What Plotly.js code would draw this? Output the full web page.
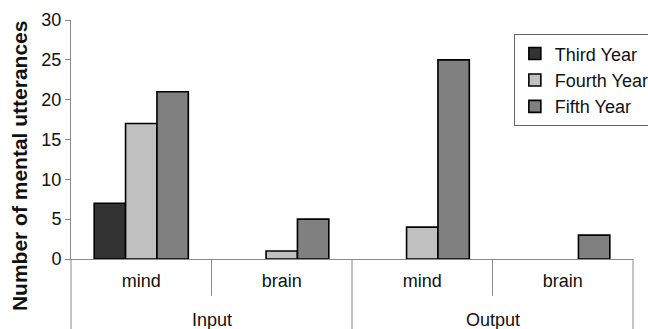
<!DOCTYPE html>
<html>
<head>
<meta charset="utf-8">
<script src="https://cdn.plot.ly/plotly-3.0.1.min.js"></script>
<style>html,body{margin:0;padding:0;background:#fff;}#chart{width:648px;height:329px;}</style>
</head>
<body>
<div id="chart"></div>
<script>
// Data
var groups = ["Input", "Output"];
var subcats = ["mind", "brain", "mind", "brain"];
var seriesNames = ["Third Year", "Fourth Year", "Fifth Year"];
var thirdYear = [7, 0, 0, 0];
var fourthYear = [17, 1, 4, 0];
var fifthYear = [21, 5, 25, 3];
var yTicks = [0, 5, 10, 15, 20, 25, 30];

var colors = ["#333333", "#c0c0c0", "#808080"];
var seriesVals = [thirdYear, fourthYear, fifthYear];
var xpos = subcats.map(function (_, i) { return i; });
var font = "Liberation Sans, Arial, sans-serif";

var traces = seriesVals.map(function (vals, k) {
  return {
    type: "bar",
    name: seriesNames[k],
    x: xpos,
    y: vals.map(function (v) { return v === 0 ? null : v; }),
    marker: { color: colors[k], line: { color: "#000", width: 1.6 } },
    hoverinfo: "skip"
  };
});

var n = subcats.length;
var shapes = [];
var axGrey = "#8a8a8a";
for (var i = 0; i <= n; i++) {
  var xp = i / n;
  var isGroupEdge = (i % 2 === 0);
  shapes.push({
    type: "line", xref: "paper", yref: "paper",
    x0: xp, x1: xp, y0: 0, y1: isGroupEdge ? -0.32 : -0.154,
    line: { color: axGrey, width: 1 }
  });
}
var annotations = groups.map(function (g, j) {
  return {
    text: g, xref: "paper", yref: "paper",
    x: (2 * j + 1) / groups.length / 2, y: -0.254,
    xanchor: "center", yanchor: "middle", showarrow: false,
    font: { family: font, size: 18, color: "#111" }
  };
});
annotations.push({
  text: "<b>Number of mental utterances</b>", textangle: -90,
  xref: "paper", yref: "paper", x: -0.092, y: 0.39,
  xanchor: "center", yanchor: "middle", showarrow: false,
  font: { family: font, size: 21, color: "#111" }
});

var layout = {
  width: 648, height: 329,
  margin: { l: 71, r: 15, t: 20, b: 70, pad: 0, autoexpand: false },
  paper_bgcolor: "#fff", plot_bgcolor: "#fff",
  barmode: "group", bargap: 0.33, bargroupgap: 0,
  showlegend: true,
  legend: {
    x: 0.788, y: 0.94, xanchor: "left", yanchor: "top",
    bgcolor: "#fff", bordercolor: "#666", borderwidth: 1,
    font: { family: font, size: 18, color: "#111" },
    traceorder: "normal"
  },
  xaxis: {
    range: [-0.5, n - 0.5], tickmode: "array", tickvals: xpos, ticktext: subcats,
    showgrid: false, zeroline: false, showline: true, linecolor: axGrey, linewidth: 1,
    ticks: "", ticklabelstandoff: 5,
    tickfont: { family: font, size: 18, color: "#111" }, fixedrange: true
  },
  yaxis: {
    range: [0, 30], tickmode: "array", tickvals: yTicks,
    showgrid: false, zeroline: false, showline: true, linecolor: axGrey, linewidth: 1,
    ticks: "outside", ticklen: 5, tickcolor: axGrey,
    tickfont: { family: font, size: 18, color: "#111" }, fixedrange: true
  },
  shapes: shapes,
  annotations: annotations
};

Plotly.newPlot("chart", traces, layout, { displayModeBar: false, staticPlot: true });
</script>
</body>
</html>
